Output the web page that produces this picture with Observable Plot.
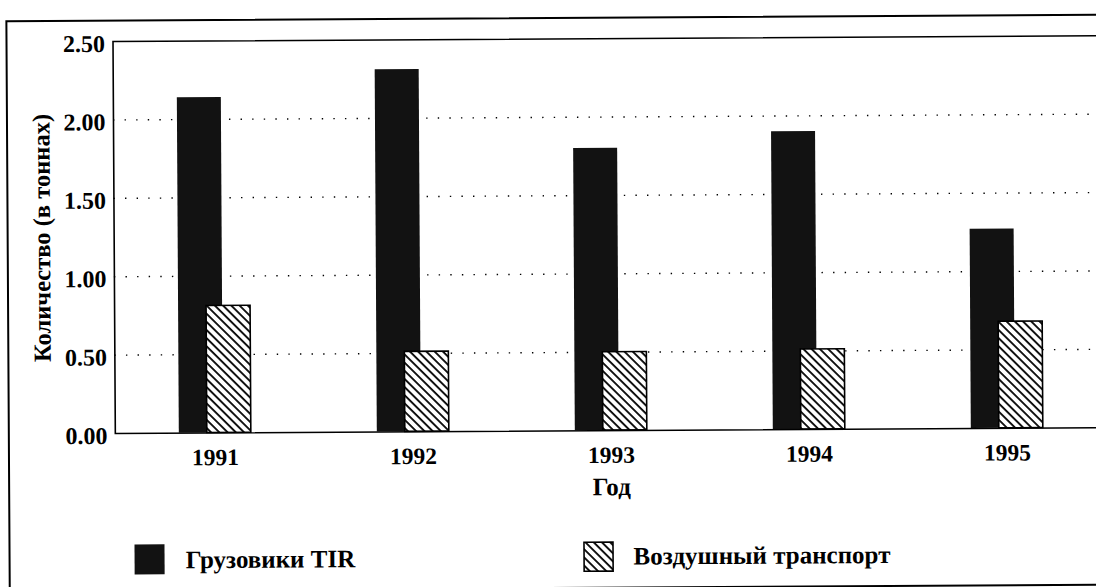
<!DOCTYPE html>
<html>
<head>
<meta charset="utf-8">
<script src="https://cdn.jsdelivr.net/npm/d3@7"></script>
<script src="https://cdn.jsdelivr.net/npm/@observablehq/plot@0.6"></script>
<style>
  html, body { margin: 0; padding: 0; background: #fff; width: 1096px; height: 587px; overflow: hidden; }
  #clip { position: relative; width: 1096px; height: 587px; overflow: hidden; background: #fff; }
  #page { position: absolute; left: 0; top: 0; width: 1096px; height: 587px;
          transform: rotate(-0.34deg); transform-origin: 548px 293px; }
  #chart { position: absolute; left: 0; top: 0; width: 1110px; height: 587px; }
  #chart svg { max-width: none !important; }
  #frame { position: absolute; left: 7px; top: 16.5px; width: 1130px; height: 572px;
           border: 2px solid #000; box-sizing: border-box; }
  .sw { position: absolute; }
  .lt { position: absolute; font-family: "Liberation Serif", "DejaVu Serif", "Times New Roman", serif;
        font-weight: bold; font-size: 25px; line-height: 30px; white-space: nowrap; color: #000; }
</style>
</head>
<body>
<div id="clip"><div id="page"><div id="frame"></div><div id="chart"></div><div id="legend"></div></div></div>
<script>
// ---- data ----
const years = ["1991", "1992", "1993", "1994", "1995"];
const tirValues = [2.14, 2.31, 1.80, 1.90, 1.27];   // Грузовики TIR
const airValues = [0.81, 0.51, 0.50, 0.51, 0.68];   // Воздушный транспорт
const seriesNames = ["Грузовики TIR", "Воздушный транспорт"];
const yTicks = [0, 0.5, 1, 1.5, 2, 2.5];
const gridTicks = [0.5, 1, 1.5, 2];
const xTitle = "Год";
const yTitle = "Количество (в тоннах)";

const data = years.map((year, i) => ({year, tir: tirValues[i], air: airValues[i]}));

const chart = Plot.plot({
  width: 1110,
  height: 587,
  marginLeft: 114,
  marginRight: 4,
  marginTop: 38.5,
  marginBottom: 156.5,
  style: {
    fontFamily: '"Liberation Serif", "DejaVu Serif", "Times New Roman", serif',
    fontSize: "24px",
    fontWeight: "bold",
    color: "#000",
    background: "transparent",
    maxWidth: "none",
    overflow: "visible"
  },
  x: {type: "band", domain: years, paddingInner: 0.637, paddingOuter: 0.3185, axis: null},
  y: {domain: [0, 2.5], axis: null},
  marks: [
    Plot.gridY(gridTicks, {stroke: "#000", strokeOpacity: 1, strokeWidth: 1.4, strokeDasharray: "1.4 10.2"}),
    Plot.barY(data, {x: "year", y: "tir", fill: "#121212", insetRight: 28}),
    Plot.barY(data, {x: "year", y: "air", fill: "url(#hatch)", stroke: "#000", strokeWidth: 1.6, insetLeft: 28}),
    Plot.frame({stroke: "#000", strokeWidth: 1.6}),
    Plot.axisY(yTicks, {tickSize: 0, tickPadding: 8, dy: 2.5, fontSize: 24, tickFormat: d3.format(".2f"), label: null}),
    Plot.axisX({tickSize: 0, tickPadding: 15.5, fontSize: 23.5, label: null}),
    Plot.text([xTitle], {frameAnchor: "bottom", dy: 64.5, lineAnchor: "bottom", textAnchor: "middle", fontSize: 25}),
    Plot.text([yTitle], {frameAnchor: "left", dx: -72, rotate: -90, textAnchor: "middle", fontSize: 24.5})
  ]
});

// hatch pattern definition
function addHatch(svgNode, id) {
  const defs = d3.select(svgNode).insert("defs", ":first-child");
  const p = defs.append("pattern")
    .attr("id", id)
    .attr("patternUnits", "userSpaceOnUse")
    .attr("width", 5.8).attr("height", 5.8)
    .attr("patternTransform", "rotate(-45)");
  p.append("rect").attr("width", 5.8).attr("height", 5.8).attr("fill", "#fff");
  p.append("line").attr("x1", 1).attr("y1", -1).attr("x2", 1).attr("y2", 7)
    .attr("stroke", "#000").attr("stroke-width", 1.8);
}
addHatch(chart, "hatch");
document.getElementById("chart").appendChild(chart);

// legend
const legend = d3.select("#legend");
const swatchPos = [{left: 132.5, top: 541.5}, {left: 581.5, top: 542}];
const textPos = [{left: 184, top: 542.5}, {left: 632, top: 542}];
seriesNames.forEach((name, i) => {
  const s = legend.append("svg").attr("class", "sw")
    .attr("width", 32).attr("height", 32)
    .style("left", (swatchPos[i].left - 1) + "px").style("top", (swatchPos[i].top - 1) + "px");
  if (i === 0) {
    s.append("rect").attr("x", 1).attr("y", 1).attr("width", 30).attr("height", 30).attr("fill", "#121212");
  } else {
    addHatch(s.node(), "hatchLegend");
    s.append("rect").attr("x", 1.5).attr("y", 1.5).attr("width", 29).attr("height", 29)
      .attr("fill", "url(#hatchLegend)").attr("stroke", "#000").attr("stroke-width", 1.6);
  }
  legend.append("div").attr("class", "lt")
    .style("left", textPos[i].left + "px").style("top", textPos[i].top + "px")
    .text(name);
});
</script>
</body>
</html>
